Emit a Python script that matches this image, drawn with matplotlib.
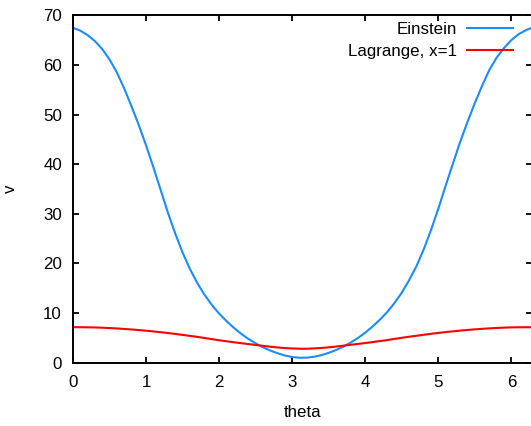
import numpy as np
import matplotlib
matplotlib.use("Agg")
import matplotlib.pyplot as plt

# curves sampled every 0.1 rad, last point at 2*pi
theta = np.append(np.arange(0, 63) / 10, 2 * np.pi)
einstein = [67.5, 66.9, 66.0, 64.8, 63.2, 61.1, 58.5, 55.3, 51.7, 47.9,
            43.8, 39.4, 34.8, 30.2, 26.0, 22.2, 18.9, 16.1, 13.7, 11.65,
            9.9, 8.4, 7.05, 5.85, 4.8, 3.9, 3.1, 2.45, 1.9, 1.45,
            1.15, 1.0, 1.02, 1.2, 1.52, 1.98, 2.55, 3.23, 4.05, 4.97,
            6.05, 7.28, 8.65, 10.2, 12.0, 14.1, 16.6, 19.4, 22.8, 26.7,
            31.0, 35.6, 40.1, 44.5, 48.5, 52.3, 55.8, 59.0, 61.5, 63.4,
            65.0, 66.2, 67.0, 67.5]
lagrange = [7.15, 7.15, 7.13, 7.1, 7.05, 6.98, 6.9, 6.8, 6.7, 6.58,
            6.45, 6.3, 6.15, 5.98, 5.8, 5.6, 5.4, 5.2, 4.98, 4.75,
            4.52, 4.32, 4.12, 3.93, 3.75, 3.58, 3.4, 3.22, 3.07, 2.95,
            2.87, 2.82, 2.81, 2.88, 2.97, 3.1, 3.25, 3.43, 3.61, 3.78,
            3.96, 4.15, 4.36, 4.56, 4.79, 5.02, 5.23, 5.43, 5.63, 5.82,
            6.0, 6.17, 6.32, 6.47, 6.6, 6.72, 6.82, 6.92, 7.0, 7.07,
            7.11, 7.14, 7.15, 7.15]
labels = ["Einstein", "Lagrange, x=1"]
colors = ["#1a8cff", "#ff0000"]

plt.rcParams["font.family"] = ["Liberation Sans", "DejaVu Sans"]
plt.rcParams["font.size"] = 12.2

W, H = 531, 426
fig = plt.figure(figsize=(W / 100, H / 100), dpi=100)
ax = fig.add_axes([73 / W, 63.3 / H, (532 - 73) / W, (362.7 - 15.3) / H])

for ys, lab, c in zip([einstein, lagrange], labels, colors):
    ax.plot(theta, ys, color=c, lw=1.5, label=lab)

ax.set_xlim(0, 2 * np.pi)
ax.set_ylim(0, 70)
ax.set_xticks(range(0, 7))
ax.set_yticks(range(0, 71, 10))
ax.tick_params(direction="in", length=4.5, width=1.3, top=True, right=True,
               labelsize=12.2, colors="black")
ax.tick_params(axis="y", pad=8)
ax.tick_params(axis="x", pad=9)
for s in ax.spines.values():
    s.set_linewidth(1.4)

ax.set_xlabel("theta", labelpad=11)
ax.set_ylabel("v")
ax.yaxis.set_label_coords(-(73 - 18) / 459, 0.5)

ax.legend(loc="upper right", bbox_to_anchor=(513 / W, 1 - 21.5 / H),
          bbox_transform=fig.transFigure, frameon=False, markerfirst=False,
          borderpad=0, borderaxespad=0, handlelength=2.72, handletextpad=0.6,
          labelspacing=0.42, fontsize=12.2)

fig.savefig("out.png", dpi=100)
